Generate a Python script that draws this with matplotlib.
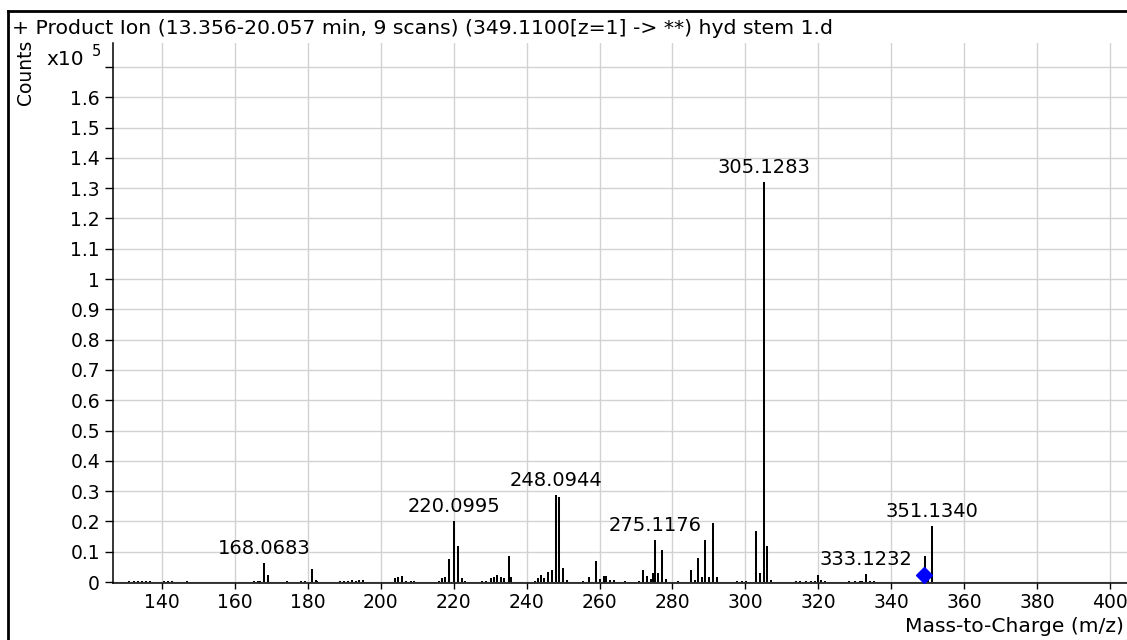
import numpy as np
import matplotlib
matplotlib.use("Agg")
import matplotlib.pyplot as plt
from matplotlib.lines import Line2D

plt.rcParams['font.family'] = ['DejaVu Sans']

title = "+ Product Ion (13.356-20.057 min, 9 scans) (349.1100[z=1] -> **) hyd stem 1.d"

# peak list: m/z and intensity (x10^5 counts)
mz = [131.0, 132.2, 133.3, 134.4, 135.6, 136.8, 140.5, 141.6, 142.7, 146.9,
      165.3, 166.2, 167.0, 168.0683, 169.07, 174.3, 178.2, 179.2,
      181.07, 182.1, 182.6, 188.8, 189.9, 190.9, 192.1, 193.2, 194.0, 195.1,
      204.0, 204.7, 205.8, 206.9, 208.2, 209.1,
      215.9, 216.9, 217.7, 218.7, 220.0995, 221.1, 222.2, 223.1,
      227.8, 228.9, 230.1, 231.0, 231.9, 232.9, 233.9, 235.1, 235.8,
      242.3, 243.1, 244.0, 244.7, 245.9, 247.0, 248.0944, 248.9, 249.9, 251.0,
      255.5, 257.2, 259.0, 260.0, 261.2, 261.9, 262.9, 264.0, 266.9,
      270.8, 272.0, 273.1, 274.1, 274.6, 275.1176, 275.9, 277.1, 278.1,
      281.5, 285.0, 286.1, 287.1, 288.2, 288.9, 290.0, 291.1, 292.3,
      297.6, 299.0, 300.3, 303.0, 304.1, 305.1283, 306.0, 306.9,
      313.8, 314.9, 316.5, 318.0, 319.2, 320.0, 320.8, 321.9,
      328.4, 330.0, 331.4, 331.9, 333.1232, 334.2, 335.3,
      349.2, 350.1, 351.1340]
counts = [0.003, 0.003, 0.003, 0.003, 0.003, 0.003, 0.003, 0.002, 0.003, 0.002,
          0.003, 0.003, 0.004, 0.063, 0.022, 0.002, 0.002, 0.003,
          0.044, 0.005, 0.004, 0.003, 0.003, 0.004, 0.006, 0.004, 0.005, 0.008,
          0.012, 0.015, 0.021, 0.004, 0.004, 0.003,
          0.002, 0.012, 0.018, 0.075, 0.202, 0.120, 0.012, 0.002,
          0.002, 0.002, 0.012, 0.018, 0.022, 0.017, 0.012, 0.086, 0.017,
          0.002, 0.012, 0.022, 0.014, 0.034, 0.040, 0.287, 0.280, 0.045, 0.007,
          0.002, 0.016, 0.069, 0.011, 0.020, 0.020, 0.006, 0.006, 0.002,
          0.002, 0.040, 0.020, 0.011, 0.031, 0.139, 0.031, 0.104, 0.011,
          0.002, 0.040, 0.006, 0.079, 0.016, 0.139, 0.016, 0.196, 0.016,
          0.002, 0.002, 0.002, 0.168, 0.031, 1.320, 0.120, 0.005,
          0.002, 0.003, 0.002, 0.002, 0.002, 0.022, 0.005, 0.003,
          0.002, 0.003, 0.003, 0.003, 0.027, 0.004, 0.002,
          0.086, 0.010, 0.185]

labels = ["168.0683", "220.0995", "248.0944", "275.1176", "305.1283", "333.1232", "351.1340"]
label_mz = [168.0683, 220.0995, 248.0944, 275.1176, 305.1283, 333.1232, 351.1340]

precursor_mz = 349.11
precursor_y = 0.023

xticks = np.arange(140, 401, 20)
yticks = np.round(np.arange(0, 1.71, 0.1), 1)

W, H = 1127, 640
fig = plt.figure(figsize=(W / 100, H / 100), dpi=100)
ax = fig.add_axes([113 / W, 1 - 583 / H, (W - 113) / W, (583 - 43) / H])

ax.set_xlim(126.56, 404.66)
ax.set_ylim(-0.0033, 1.779)

ax.vlines(mz, 0, counts, color='black', linewidth=1.45)

lookup = dict(zip(mz, counts))
for txt, m in zip(labels, label_mz):
    ax.annotate(txt, (m, lookup[m]), xytext=(0, 6.5), textcoords='offset points',
                ha='center', va='baseline', fontsize=14)

# precursor marker
ax.plot([precursor_mz], [precursor_y], marker='D', color='#0000ff', markersize=8.5,
        linestyle='none', zorder=5)

ax.set_xticks(xticks)
ax.set_yticks(yticks)
ax.set_yticklabels([("%g" % v) if v < 1.65 else "" for v in yticks])
ax.tick_params(axis='x', direction='out', length=4.5, width=1, pad=3, labelsize=13.5)
ax.tick_params(axis='y', direction='out', length=5.8, width=1, pad=3.5, labelsize=13.5)
ax.grid(True, color='#d2d2d2', linewidth=1.0)
ax.set_axisbelow(True)
for s in ['top', 'right']:
    ax.spines[s].set_visible(False)
ax.spines['left'].set_linewidth(1.1)
ax.spines['bottom'].set_linewidth(1.1)

# header / labels
fig.text(12 / W, 1 - 28 / H, title, ha='left', va='center', fontsize=14.7)
fig.text(26 / W, 1 - 72 / H, "Counts", rotation=90, ha='center', va='center', fontsize=13.5)
fig.text(46 / W, 1 - 65 / H, "x10", ha='left', va='baseline', fontsize=14.5)
fig.text(92 / W, 1 - 56 / H, "5", ha='left', va='baseline', fontsize=10.5)
fig.text(1124 / W, 1 - 626 / H, "Mass-to-Charge (m/z)", ha='right', va='center', fontsize=14.6)

# outer frame
fig.add_artist(Line2D([7.5 / W, 7.5 / W], [0, 1 - 10.5 / H], transform=fig.transFigure,
                      color='black', linewidth=2))
fig.add_artist(Line2D([7.5 / W, 1], [1 - 10.5 / H, 1 - 10.5 / H], transform=fig.transFigure,
                      color='black', linewidth=2))

fig.savefig('out.png', dpi=100)
